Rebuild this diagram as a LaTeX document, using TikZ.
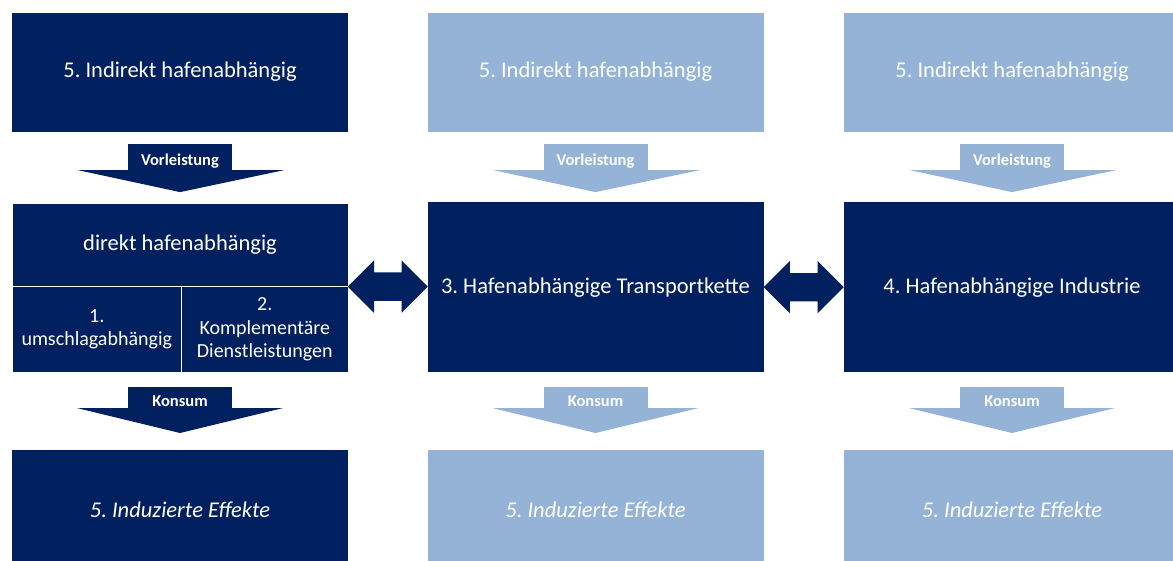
\documentclass[tikz,border=0pt]{standalone}
\usepackage{fontspec}
\setmainfont{Carlito}
\usetikzlibrary{calc,positioning,shapes.arrows}
\definecolor{navy}{HTML}{002060}
\definecolor{paleblue}{HTML}{95B3D7}
\frenchspacing
\begin{document}
\begin{tikzpicture}[x=1pt, y=-1pt,
    font=\fontsize{22.5}{27}\selectfont,
    block/.style={fill=navy, text=white, minimum width=336pt, minimum height=119pt,
                  align=center, inner sep=0pt},
    pale/.style={block, fill=paleblue},
    core/.style={block, minimum height=170pt, anchor=north},
    induced/.style={anchor=north, font=\fontsize{22.5}{27}\selectfont\itshape},
    sub/.style={fill=navy, draw=white, line width=0.6pt, text=white, align=center,
                anchor=north west, inner sep=0pt, minimum height=86pt,
                font=\fontsize{20}{23.5}\selectfont},
    tag/.style={minimum width=104pt, inner sep=0pt, text=white, text height=19pt,
                text depth=1pt, font=\bfseries\fontsize{16.5}{18}\selectfont},
    link/.style={double arrow, fill=navy, minimum width=52pt, minimum height=80pt,
                 double arrow head extend=12pt, inner xsep=0pt, inner ysep=14pt}
]
\useasboundingbox (0,0) rectangle (1173,560);
\node[block] (indir1) at (180,72) {5. Indirekt hafenabhängig};
\node[pale] (indir2) at (595.5,72) {5. Indirekt hafenabhängig};
\node[pale] (indir3) at (1012,72) {5. Indirekt hafenabhängig};
% direct part, split in two below
\node[block, draw=white, line width=0.6pt, minimum height=83pt, anchor=north] (direct)
    at (180,203) {direkt hafenabhängig};
\node[sub, minimum width=169pt] (umschl) at (12,286) {1.\\umschlagabhängig};
\node[sub, minimum width=167pt] (kompl) at (181,286) {2.\\Komplementäre\\Dienstleistungen};
\node[core] (trans) at (595.5,202) {3. Hafenabhängige Transportkette};
\node[core] (indus) at (1012,202) {4. Hafenabhängige Industrie};
\node[block, induced] (induz1) at (180,450) {5. Induzierte Effekte};
\node[pale, induced] (induz2) at (595.5,450) {5. Induzierte Effekte};
\node[pale, induced] (induz3) at (1012,450) {5. Induzierte Effekte};
\node[link] (swap1) at ($(direct.south east)!0.5!(trans.west |- direct.south east)$) {};
\node[link] (swap2) at ($(trans.east)!0.5!(indus.west)$) {};
\foreach \i/\col in {1/navy, 2/paleblue, 3/paleblue} {
  \node[tag, fill=\col, minimum height=26pt, below=12pt of indir\i] (vl\i) {Vorleistung};
  \fill[\col] ($(vl\i.south west)+(-50,0)$) -- ($(vl\i.south east)+(52,0)$)
      -- ($(vl\i.south)+(0,22)$) -- cycle;
  \node[tag, fill=\col, minimum height=21pt, above=42pt of induz\i] (ks\i) {Konsum};
  \fill[\col] ($(ks\i.south west)+(-51,0)$) -- ($(ks\i.south east)+(51,0)$)
      -- ($(ks\i.south)+(0,25)$) -- cycle;
}
\end{tikzpicture}
\end{document}
